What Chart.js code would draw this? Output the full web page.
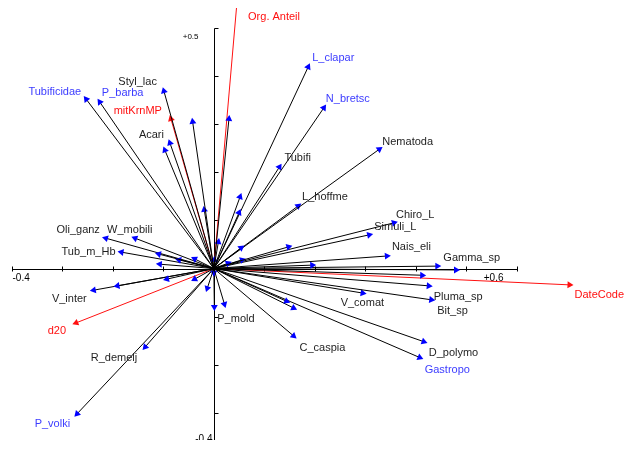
<!DOCTYPE html>
<html>
<head>
<meta charset="utf-8">
<script src="https://cdn.jsdelivr.net/npm/chart.js@4.4.1/dist/chart.umd.min.js"></script>
<style>
  html, body { margin: 0; padding: 0; background: #fff; }
  #wrap { width: 633px; height: 450px; }
</style>
</head>
<body>
<div id="wrap"><canvas id="c" width="633" height="450"></canvas></div>
<script>
// ---- Ordination scores (axis 1 = x, axis 2 = y) ----
// Species vectors that carry a name
const speciesNames = ['Tubificidae','P_barba','Styl_lac','Acari','L_clapar','N_bretsc','Nematoda','Tubifi',
  'L_hoffme','Chiro_L','Simuli_L','Nais_eli','Gamma_sp','Pluma_sp','Bit_sp','V_comat','D_polymo','Gastropo',
  'C_caspia','P_mold','R_demelj','P_volki','V_inter','Oli_ganz','W_mobili','Tub_m_Hb'];
const speciesX = [-0.253,-0.226,-0.099,-0.087,0.187,0.218,0.328,0.130,
  0.167,0.357,0.308,0.343,0.443,0.426,0.431,0.295,0.416,0.408,
  0.158,0.001,-0.136,-0.271,-0.238,-0.214,-0.156,-0.183];
const speciesY = [0.352,0.346,0.369,0.261,0.419,0.334,0.248,0.211,
  0.130,0.095,0.070,0.026,0.005,-0.036,-0.065,-0.051,-0.152,-0.185,
  -0.140,-0.080,-0.163,-0.302,-0.045,0.063,0.063,0.034];

// Species vectors drawn without a name
const otherX = [-0.097,-0.042,0.030,0.052,0.050,-0.019,0.009,0.054,0.148,0.028,0.056,0.195,0.480,0.413,
  0.144,0.158,0.021,-0.013,-0.038,-0.093,-0.191,-0.107,-0.109,-0.069,-0.038,0.001,0.000];
const otherY = [0.246,0.305,0.311,0.149,0.116,0.122,0.055,0.043,0.045,0.011,0.018,0.007,-0.003,-0.014,
  -0.068,-0.082,-0.074,-0.041,-0.022,-0.022,-0.036,0.009,0.030,0.018,0.020,0.018,-0.009];

// Environmental variables
const envNames = ['Org. Anteil','mitKrnMP','DateCode','d20'];
const envX = [0.048,-0.085,0.705,-0.273];
const envY = [0.579,0.311,-0.034,-0.113];

// Axis ticks and end labels
const xTicks = [-0.4,-0.3,-0.2,-0.1,0,0.1,0.2,0.3,0.4,0.5,0.6];
const yTicks = [-0.4,-0.3,-0.2,-0.1,0,0.1,0.2,0.3,0.4,0.5];
const xEndLabels = ['-0.4','+0.6'];
const yEndLabels = ['+0.5','-0.4'];

// ---- Styling / layout ----
const BLACK_TXT = '#1e1e1e';
const BLUE_TXT = '#3c3cff';
const RED = '#ff1010';
const HEAD_BLUE = '#0000ff';
const blueNamed = new Set(['Tubificidae','P_barba','L_clapar','N_bretsc','Gastropo','P_volki']);

// label offsets from the arrow tip in pixels: [dx, dy, align]
const labelPlacement = {
  'Org. Anteil':[10,27,'left'], 'mitKrnMP':[-9,-8,'right'], 'DateCode':[5,10,'left'], 'd20':[-10,8,'right'],
  'Tubificidae':[-5,-7,'right'], 'P_barba':[2,-9,'left'], 'Styl_lac':[-7,-9,'right'], 'Acari':[-6,-8,'right'],
  'L_clapar':[4,-9,'left'], 'N_bretsc':[2,-9,'left'], 'Nematoda':[3,-7,'left'], 'Tubifi':[5,-9,'left'],
  'L_hoffme':[4,-9,'left'], 'Chiro_L':[2,-8,'left'], 'Simuli_L':[5,-8,'left'], 'Nais_eli':[5,-9,'left'],
  'Gamma_sp':[6,-8,'left'], 'Pluma_sp':[5,11,'left'], 'Bit_sp':[6,11,'left'], 'V_comat':[-22,10,'left'],
  'D_polymo':[5,11,'left'], 'Gastropo':[5,12,'left'], 'C_caspia':[6,12,'left'], 'P_mold':[3,12,'left'],
  'R_demelj':[-8,11,'right'], 'P_volki':[-7,10,'right'], 'V_inter':[-7,9,'right'], 'Oli_ganz':[-6,-8,'right'],
  'W_mobili':[-28,-8,'left'], 'Tub_m_Hb':[-6,0,'right']
};

function headAngle(chart, x, y) {
  const sx = chart.scales.x, sy = chart.scales.y;
  const dx = sx.getPixelForValue(x) - sx.getPixelForValue(0);
  const dy = sy.getPixelForValue(y) - sy.getPixelForValue(0);
  return Math.atan2(dx, -dy) * 180 / Math.PI;
}

function vector(x, y, lineColor, headColor, name) {
  return {
    label: name || '',
    data: [{x: 0, y: 0}, {x: x, y: y}],
    showLine: true,
    borderColor: lineColor,
    borderWidth: 1,
    pointStyle: 'triangle',
    pointRadius: [0, 4],
    pointHoverRadius: [0, 4],
    pointBackgroundColor: headColor,
    pointBorderColor: headColor,
    pointBorderWidth: 0,
    pointRotation: ctx => headAngle(ctx.chart, x, y)
  };
}

const datasets = [];
otherX.forEach((v, i) => datasets.push(vector(v, otherY[i], '#000', HEAD_BLUE)));
speciesX.forEach((v, i) => datasets.push(vector(v, speciesY[i], '#000', HEAD_BLUE, speciesNames[i])));
envX.forEach((v, i) => datasets.push(vector(v, envY[i], RED, RED, envNames[i])));

// Axes crossing at the origin, drawn through the chart scales
const crossAxes = {
  id: 'crossAxes',
  beforeDatasetsDraw(chart) {
    const {ctx, chartArea: a, scales: {x: sx, y: sy}} = chart;
    const x0 = Math.round(sx.getPixelForValue(0)) + 0.5;
    const y0 = Math.round(sy.getPixelForValue(0)) + 0.5;
    ctx.save();
    ctx.beginPath();
    ctx.rect(a.left, a.top, a.right - a.left, a.bottom - a.top);
    ctx.clip();
    ctx.strokeStyle = '#000';
    ctx.lineWidth = 1;
    ctx.beginPath();
    const xl = Math.round(sx.getPixelForValue(xTicks[0])) + 0.5;
    const xr = Math.round(sx.getPixelForValue(xTicks[xTicks.length - 1])) + 0.5;
    ctx.moveTo(xl, y0); ctx.lineTo(xr, y0);
    xTicks.forEach(t => {
      const p = Math.round(sx.getPixelForValue(t)) + 0.5;
      ctx.moveTo(p, y0 - 3); ctx.lineTo(p, y0 + 2);
    });
    const yt = Math.round(sy.getPixelForValue(yTicks[yTicks.length - 1])) + 0.5;
    const yb = Math.round(sy.getPixelForValue(yTicks[0])) + 0.5;
    ctx.moveTo(x0, yt); ctx.lineTo(x0, yb);
    yTicks.forEach(t => {
      const p = Math.round(sy.getPixelForValue(t)) + 0.5;
      ctx.moveTo(x0, p); ctx.lineTo(x0 + 4, p);
    });
    ctx.stroke();

    ctx.fillStyle = '#000';
    ctx.font = '10px "Liberation Sans", Arial, sans-serif';
    ctx.textBaseline = 'top';
    ctx.textAlign = 'left';
    ctx.fillText(xEndLabels[0], xl, y0 + 4);
    ctx.textAlign = 'right';
    ctx.fillText(xEndLabels[1], xr - 14, y0 + 4);
    ctx.fillText(yEndLabels[1], x0 - 2, yb - 27);
    ctx.font = '8px "Liberation Sans", Arial, sans-serif';
    ctx.textBaseline = 'middle';
    ctx.fillText(yEndLabels[0], x0 - 16, yt + 8);
    ctx.restore();
  }
};

// Names next to the arrow tips
const tipLabels = {
  id: 'tipLabels',
  afterDatasetsDraw(chart) {
    const {ctx, scales: {x: sx, y: sy}} = chart;
    ctx.save();
    ctx.font = '11px "Liberation Sans", Arial, sans-serif';
    ctx.textBaseline = 'middle';
    const put = (name, x, y, color) => {
      const pl = labelPlacement[name];
      if (!pl) return;
      ctx.fillStyle = color;
      ctx.textAlign = pl[2];
      ctx.fillText(name, sx.getPixelForValue(x) + pl[0], sy.getPixelForValue(y) + pl[1]);
    };
    speciesNames.forEach((n, i) => put(n, speciesX[i], speciesY[i], blueNamed.has(n) ? BLUE_TXT : BLACK_TXT));
    envNames.forEach((n, i) => put(n, envX[i], envY[i], RED));
    ctx.restore();
  }
};

new Chart(document.getElementById('c'), {
  type: 'scatter',
  data: { datasets },
  options: {
    responsive: false,
    devicePixelRatio: 1,
    animation: false,
    layout: { padding: { top: 8, bottom: 10, left: 0, right: 0 } },
    scales: {
      x: { type: 'linear', display: false, min: -0.4159, max: 0.8229 },
      y: { type: 'linear', display: false, min: -0.3565, max: 0.5416 }
    },
    plugins: { legend: { display: false }, tooltip: { enabled: false } },
    events: []
  },
  plugins: [crossAxes, tipLabels]
});
</script>
</body>
</html>
